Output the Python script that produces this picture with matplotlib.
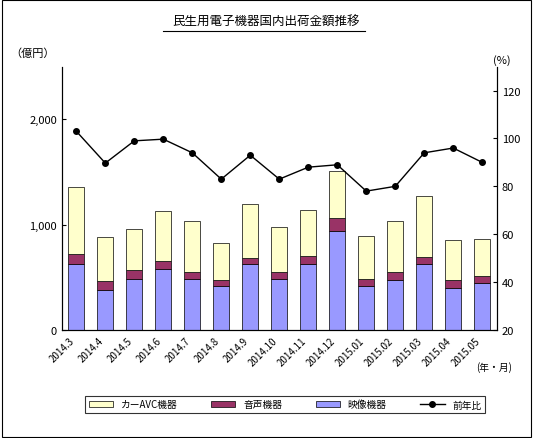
import matplotlib
matplotlib.use("Agg")
import matplotlib.pyplot as plt
from matplotlib.patches import Rectangle
plt.rcParams['font.family'] = ['Noto Sans CJK JP', 'DejaVu Sans']

months = ["2014.3","2014.4","2014.5","2014.6","2014.7","2014.8","2014.9","2014.10","2014.11","2014.12","2015.01","2015.02","2015.03","2015.04","2015.05"]
video = [626,379,483,578,483,417,626,483,626,938,417,474,626,398,445]
audio = [94,85,86,76,67,57,56,67,75,124,66,76,66,76,67]
car_av = [635,417,388,474,483,351,512,426,436,445,408,483,578,379,350]
yoy = [103,89.7,99,99.7,94,83,93,83,88,89,78,80,94,96,90]

fig = plt.figure(figsize=(5.33,4.39), dpi=100)
fig.patches.append(Rectangle((0.003,0.003),0.994,0.994, transform=fig.transFigure, fill=False, ec='black', lw=0.8))
ax = fig.add_axes([0.116,0.246,0.816,0.6])
x = range(len(months))
w = 0.55
ax.bar(x, video, w, color='#9999FF', edgecolor='black', lw=0.5, label='映像機器', zorder=2)
ax.bar(x, audio, w, bottom=video, color='#993366', edgecolor='black', lw=0.5, label='音声機器', zorder=2)
bot2 = [a+b for a,b in zip(video,audio)]
ax.bar(x, car_av, w, bottom=bot2, color='#FFFFCC', edgecolor='black', lw=0.5, label='カーAVC機器', zorder=2)
ax.set_ylim(0,2500)
ax.set_yticks([0,1000,2000])
ax.set_yticklabels(['0','1,000','2,000'], fontsize=8)
ax.set_xlim(-0.5,len(months)-0.5)
ax.set_xticks(list(x))
ax.set_xticklabels(months, rotation=45, ha='right', fontsize=7)
ax.tick_params(direction='in', length=3)
ax2 = ax.twinx()
ln, = ax2.plot(list(x), yoy, color='black', marker='o', ms=4, lw=1, label='前年比')
ax2.set_ylim(20,130)
ax2.set_yticks([20,40,60,80,100,120])
ax2.tick_params(direction='in', length=3, labelsize=8)
for a in (ax, ax2):
    a.spines['top'].set_visible(False)
fig.text(0.5,0.942,'民生用電子機器国内出荷金額推移', ha='center', fontsize=9)
fig.add_artist(plt.Line2D([0.306,0.685],[0.928,0.928], color='black', lw=0.8))
fig.text(0.02,0.87,'（億円）', fontsize=8)
fig.text(0.925,0.855,'(%)', fontsize=8)
fig.text(0.96,0.155,'(年・月)', fontsize=7, ha='right')
h, l = ax.get_legend_handles_labels()
leg = fig.legend([h[2],h[1],h[0],ln],[l[2],l[1],l[0],'前年比'], loc='lower left', bbox_to_anchor=(0.15,0.045,0.77,0.06),
                 mode='expand', ncol=4, fontsize=7, frameon=True, fancybox=False, edgecolor='black', handlelength=2.5)
leg.get_frame().set_linewidth(0.8)
fig.savefig('out.png', dpi=100)
